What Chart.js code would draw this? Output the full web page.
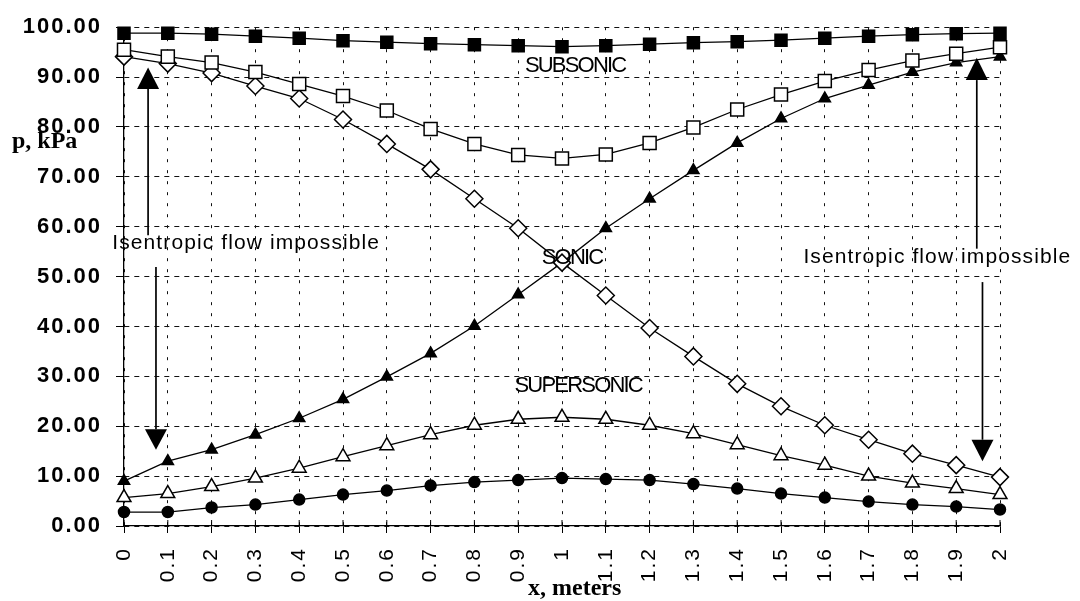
<!DOCTYPE html>
<html>
<head>
<meta charset="utf-8">
<script src="https://cdn.jsdelivr.net/npm/chart.js@4.4.0/dist/chart.umd.min.js"></script>
<style>
  html, body { margin: 0; padding: 0; background: #fff; }
</style>
</head>
<body>
<canvas id="nozzle" width="1080" height="601"></canvas>
<script>
// x positions along the duct (m)
const xLabels = ['0', '0.1', '0.2', '0.3', '0.4', '0.5', '0.6', '0.7', '0.8', '0.9', '1',
                 '1.1', '1.2', '1.3', '1.4', '1.5', '1.6', '1.7', '1.8', '1.9', '2'];

// pressure, kPa, one array per curve (named by marker)
const pFilledSquare = [98.8, 98.8, 98.6, 98.2, 97.8, 97.3, 97.0, 96.7, 96.5, 96.3, 96.1,
                       96.3, 96.6, 96.9, 97.1, 97.4, 97.8, 98.2, 98.5, 98.7, 98.8];
const pOpenSquare = [95.5, 94.1, 92.9, 91.0, 88.6, 86.2, 83.3, 79.6, 76.6, 74.4, 73.7,
                     74.5, 76.8, 79.9, 83.5, 86.5, 89.2, 91.4, 93.3, 94.7, 96.0];
const pDiamond = [94.1, 92.7, 90.8, 88.2, 85.7, 81.5, 76.6, 71.5, 65.6, 59.7, 52.8,
                  46.2, 39.7, 34.0, 28.5, 24.0, 20.2, 17.3, 14.5, 12.2, 9.8];
const pFilledTriangle = [9.0, 13.0, 15.3, 18.3, 21.6, 25.4, 29.9, 34.6, 40.1, 46.4, 52.8,
                         59.7, 65.6, 71.3, 76.8, 81.7, 85.7, 88.4, 91.0, 92.9, 94.1];
const pOpenTriangle = [5.7, 6.5, 7.9, 9.6, 11.6, 13.9, 16.1, 18.3, 20.2, 21.4, 21.8,
                       21.4, 20.2, 18.5, 16.3, 14.1, 12.2, 10.0, 8.6, 7.5, 6.3];
const pCircle = [2.8, 2.8, 3.7, 4.3, 5.3, 6.3, 7.1, 8.1, 8.8, 9.2, 9.6,
                 9.4, 9.2, 8.4, 7.5, 6.5, 5.7, 4.9, 4.3, 3.9, 3.3];

const SANS = '"Liberation Sans", Arial, Helvetica, sans-serif';
const SERIF = '"Liberation Serif", "Times New Roman", serif';

function series(data, style, radius, filled) {
  return {
    data: data,
    borderColor: '#000',
    borderWidth: 1.3,
    pointStyle: style,
    pointRadius: radius,
    pointBorderWidth: 1.5,
    pointBorderColor: '#000',
    pointBackgroundColor: filled ? '#000' : '#fff',
    tension: 0,
    clip: false
  };
}

function arrow(ctx, px, yFrom, yBase, yTip, half) {
  ctx.lineWidth = 1.7;
  ctx.beginPath();
  ctx.moveTo(px, yFrom);
  ctx.lineTo(px, yBase);
  ctx.stroke();
  ctx.beginPath();
  ctx.moveTo(px - half, yBase);
  ctx.lineTo(px + half, yBase);
  ctx.lineTo(px, yTip);
  ctx.closePath();
  ctx.fill();
}

function label(ctx, text, px, py, font, spacing) {
  ctx.font = font;
  ctx.letterSpacing = spacing;
  ctx.textAlign = 'center';
  ctx.textBaseline = 'middle';
  ctx.fillText(text, px, py);
}

// annotations, axis titles and the little inner tick marks
const overlay = {
  id: 'overlay',
  beforeLayout(chart) { chart.ctx.letterSpacing = '2px'; },
  beforeDraw(chart) { chart.ctx.letterSpacing = '2px'; },
  afterDraw(chart) {
    const ctx = chart.ctx;
    const x = chart.scales.x, y = chart.scales.y;
    ctx.save();
    ctx.fillStyle = '#000';
    ctx.strokeStyle = '#000';

    // ticks poking up into the plot from the x axis
    ctx.lineWidth = 1;
    for (let i = 0; i < xLabels.length; i++) {
      const px = x.getPixelForValue(i);
      ctx.beginPath();
      ctx.moveTo(px, y.bottom);
      ctx.lineTo(px, y.bottom - 6);
      ctx.stroke();
    }

    // regime labels
    const capFont = '22px ' + SANS;
    label(ctx, 'SUBSONIC', x.getPixelForValue(10.3), y.getPixelForValue(92.3), capFont, '-1.8px');
    label(ctx, 'SONIC', x.getPixelForValue(10.23), y.getPixelForValue(53.8), capFont, '-1.8px');
    label(ctx, 'SUPERSONIC', x.getPixelForValue(10.37), y.getPixelForValue(28.1), capFont, '-1.8px');

    const noteFont = '21px ' + SANS;
    label(ctx, 'Isentropic flow impossible', x.getPixelForValue(2.79), y.getPixelForValue(56.6), noteFont, '1.1px');
    label(ctx, 'Isentropic flow impossible', x.getPixelForValue(18.57), y.getPixelForValue(53.8), noteFont, '1.1px');

    // arrows
    arrow(ctx, x.getPixelForValue(0.55), y.getPixelForValue(58.3), y.getPixelForValue(87.6), y.getPixelForValue(91.9), 11);
    arrow(ctx, x.getPixelForValue(0.73), y.getPixelForValue(51.9), y.getPixelForValue(19.4), y.getPixelForValue(15.3), 11);
    arrow(ctx, x.getPixelForValue(19.47), y.getPixelForValue(55.6), y.getPixelForValue(89.4), y.getPixelForValue(93.9), 11);
    arrow(ctx, x.getPixelForValue(19.6), y.getPixelForValue(48.9), y.getPixelForValue(17.3), y.getPixelForValue(13.0), 11);

    // axis titles
    ctx.letterSpacing = '0px';
    ctx.font = 'bold 24px ' + SERIF;
    ctx.textAlign = 'left';
    ctx.textBaseline = 'alphabetic';
    ctx.fillText('p, kPa', 12, 148);
    ctx.fillText('x, meters', 528, 595);
    ctx.restore();
  }
};

new Chart(document.getElementById('nozzle'), {
  type: 'line',
  data: {
    labels: xLabels,
    datasets: [
      series(pFilledSquare, 'rect', 8.5, true),
      series(pOpenSquare, 'rect', 9.2, false),
      series(pDiamond, 'rectRot', 8.5, false),
      series(pFilledTriangle, 'triangle', 6.5, true),
      series(pOpenTriangle, 'triangle', 8, false),
      series(pCircle, 'circle', 5.5, true)
    ]
  },
  options: {
    responsive: false,
    animation: false,
    layout: { padding: { top: 17, right: 80, left: 0, bottom: 0 } },
    plugins: {
      legend: { display: false },
      tooltip: { enabled: false }
    },
    scales: {
      x: {
        type: 'category',
        offset: false,
        grid: {
          color: '#111',
          lineWidth: 1,
          tickLength: 7,
          tickColor: '#000',
          tickWidth: 1
        },
        border: { display: true, color: '#000', width: 1.3, dash: [3, 8] },
        ticks: {
          autoSkip: false,
          minRotation: 90,
          maxRotation: 90,
          padding: 14,
          color: '#000',
          font: { family: SANS, size: 21 }
        },
        afterFit(scale) {
          scale.height = 75;
          scale.paddingLeft = 0;
          scale.paddingRight = 0;
        }
      },
      y: {
        min: 0,
        max: 100,
        grid: {
          color: '#111',
          lineWidth: 1,
          tickLength: 8,
          tickColor: '#000',
          tickWidth: 1
        },
        border: { display: true, color: '#000', width: 1.3, dash: [5, 5] },
        ticks: {
          stepSize: 10,
          padding: 14,
          color: '#000',
          font: { family: SANS, size: 22, weight: 'bold' },
          callback: v => v.toFixed(2)
        },
        afterFit(scale) { scale.width = 124; }
      }
    }
  },
  plugins: [overlay]
});
</script>
</body>
</html>
